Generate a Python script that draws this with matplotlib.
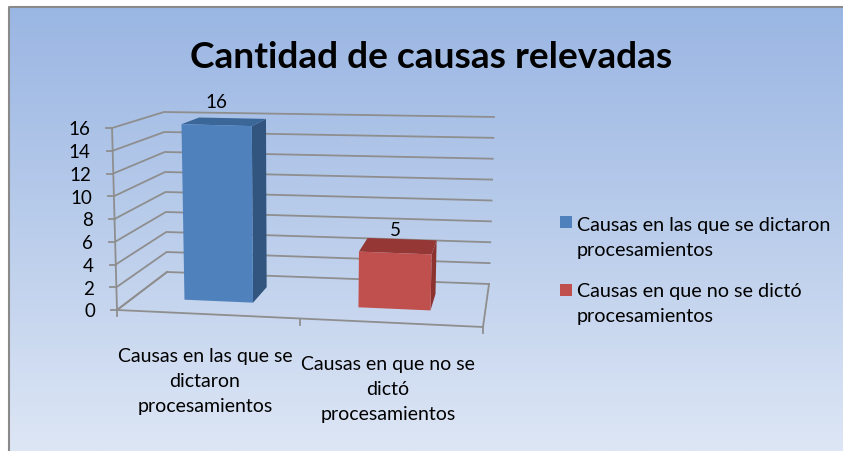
import numpy as np
import matplotlib
matplotlib.use("Agg")
import matplotlib.pyplot as plt
from matplotlib.colors import LinearSegmentedColormap
from matplotlib.patches import Polygon, Rectangle

# Data
TITLE = "Cantidad de causas relevadas"
categories = ["Causas en las que se\ndictaron\nprocesamientos", "Causas en que no se\ndictó\nprocesamientos"]
legend_labels = ["Causas en las que se dictaron\nprocesamientos", "Causas en que no se dictó\nprocesamientos"]
values = [16, 5]
y_ticks = [0, 2, 4, 6, 8, 10, 12, 14, 16]

# Colours per bar: front, side, top
FRONT = ["#4F81BD", "#C0504D"]
SIDE = ["#31557F", "#8C3330"]
TOP = ["#3B6698", "#953735"]
GRID = "#8E8E8E"

plt.rcParams["font.family"] = ["Lato", "DejaVu Sans"]

# Floor corners of the fake 3D box, in pixels: front-left, front-right, back-left, back-right
FL, FR = np.array([117.0, 311.0]), np.array([483.0, 328.0])
BL, BR = np.array([167.0, 273.0]), np.array([489.0, 285.0])
# Screen shift per value unit at the same corners
UP_FL, UP_FR = np.array([-0.31, -11.375]), np.array([0.31, -11.66])
UP_BL, UP_BR = np.array([-0.19, -10.0]), np.array([0.31, -10.44])


def project(u, d, v):
    # u along the category axis, d into the depth, v the value
    front = FL + (FR - FL) * u
    back = BL + (BR - BL) * u
    up_front = UP_FL + (UP_FR - UP_FL) * u
    up_back = UP_BL + (UP_BR - UP_BL) * u
    return front + (back - front) * d + (up_front + (up_back - up_front) * d) * v


fig = plt.figure(figsize=(8.43, 4.52), dpi=100)
ax = fig.add_axes([0, 0, 1, 1])
ax.axis("off")

# Background gradient and border (no right or bottom edge in the crop)
cmap = LinearSegmentedColormap.from_list("bg", ["#9AB6E3", "#BACDEB", "#DDE6F5"])
ax.imshow(np.linspace(0, 1, 256).reshape(-1, 1), cmap=cmap, aspect="auto",
          extent=(9, 843, 452, 8), zorder=0)
ax.plot([9, 9, 843], [452, 8, 8], color="#8A8A8A", lw=1.5, zorder=1)
ax.set_xlim(0, 843)
ax.set_ylim(452, 0)

# Grid lines on the side and back walls
for v in y_ticks:
    pts = np.array([project(0, 0, v), project(0, 1, v), project(1, 1, v)])
    ax.plot(pts[:, 0], pts[:, 1], color=GRID, lw=1.3, zorder=2)
    tick = project(0, 0, v)
    ax.plot([tick[0] - 6, tick[0]], [tick[1], tick[1]], color=GRID, lw=1.3, zorder=2)
    ax.text(tick[0] - 22, tick[1] + 1, str(v), ha="right", va="center", fontsize=13.5, color="black")

# Value axis and floor
axis = np.array([project(0, 0, 0), project(0, 0, y_ticks[-1])])
ax.plot(axis[:, 0], axis[:, 1], color=GRID, lw=1.3, zorder=2)
floor = np.array([project(0, 1, 0), project(0, 0, 0), project(1, 0, 0), project(1, 1, 0)])
ax.plot(floor[:, 0], floor[:, 1], color=GRID, lw=1.3, zorder=2)
for u in [0, 0.5, 1]:
    p = project(u, 0, 0)
    ax.plot([p[0], p[0]], [p[1], p[1] + 6], color=GRID, lw=1.3, zorder=2)

# Bars
bar_u = [(0.145, 0.34), (0.64, 0.845)]
bar_d = (0.33, 0.72)
for i, val in enumerate(values):
    u0, u1 = bar_u[i]
    d0, d1 = bar_d
    ax.add_patch(Polygon([project(u1, d0, 0), project(u1, d1, 0), project(u1, d1, val), project(u1, d0, val)],
                         facecolor=SIDE[i], edgecolor="none", zorder=3))
    ax.add_patch(Polygon([project(u0, d0, val), project(u1, d0, val), project(u1, d1, val), project(u0, d1, val)],
                         facecolor=TOP[i], edgecolor="none", zorder=3))
    ax.add_patch(Polygon([project(u0, d0, 0), project(u1, d0, 0), project(u1, d0, val), project(u0, d0, val)],
                         facecolor=FRONT[i], edgecolor="none", zorder=4))
    top = project((u0 + u1) / 2, d0, val)
    ax.text(top[0], top[1] - 24, str(val), ha="center", va="center", fontsize=13.5, color="black", zorder=5)

# Category labels
ax.text(205, 381.5, categories[0], ha="center", va="center", fontsize=14, linespacing=1.6)
ax.text(388, 389.5, categories[1], ha="center", va="center", fontsize=14, linespacing=1.6)

# Legend
for i, label in enumerate(legend_labels):
    ax.add_patch(Rectangle((560, 217 + i * 68), 12, 12, facecolor=FRONT[i], edgecolor="none", zorder=4))
    ax.text(577, 238 + i * 66, label, ha="left", va="center", fontsize=14.2, linespacing=1.56)

ax.text(431, 58, TITLE, ha="center", va="center", fontsize=26.7, fontweight="bold")

fig.savefig("out.png", dpi=100)
